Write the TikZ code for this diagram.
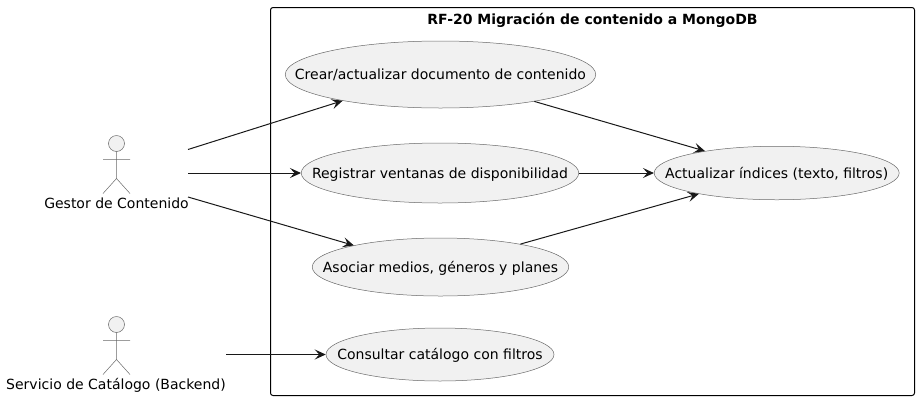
\documentclass[tikz,border=0pt]{standalone}
\usepackage{fontspec}
\setmainfont{DejaVu Sans}
\usetikzlibrary{shapes.geometric,arrows.meta}
\definecolor{ink}{HTML}{181818}
\definecolor{fillg}{HTML}{F1F1F1}
\tikzset{
  every node/.style={font=\fontsize{14}{16}\selectfont,text=black,inner sep=0pt},
  usecase/.style={ellipse,draw=ink!65,fill=fillg,line width=0.5pt,inner sep=0pt},
  uctext/.style={text height=13.5pt,text depth=3pt,fill=none,draw=none},
  conn/.style={draw=ink,line width=1pt,-{Stealth[length=11pt,width=10pt,inset=4.5pt,fill=ink]}},
  actorline/.style={draw=ink!65,line width=0.5pt,fill=none},
  actorhead/.style={draw=ink!65,fill=fillg,line width=0.5pt},
  sysbox/.style={draw=black,line width=1pt,rounded corners=2.5pt}
}
\begin{document}
\begin{tikzpicture}[x=1pt,y=-1pt]
\useasboundingbox (0,0) rectangle (919,400);
\draw[sysbox] (270.5,7.5) rectangle (914.5,395.5);
\node[anchor=base,font=\fontsize{14}{16}\selectfont\bfseries] (title) at (592.5,24) {RF-20 Migración de contenido a MongoDB};

\node[usecase,minimum width=310.5pt,minimum height=67pt,label={[uctext]center:Crear/actualizar documento de contenido}] (crear) at (440.5,74.5) {};
\node[usecase,minimum width=277.5pt,minimum height=60pt,label={[uctext]center:Registrar ventanas de disponibilidad}] (registrar) at (440,173) {};
\node[usecase,minimum width=256.5pt,minimum height=58pt,label={[uctext]center:Asociar medios, géneros y planes}] (asociar) at (440.5,267) {};
\node[usecase,minimum width=228pt,minimum height=53pt,label={[uctext]center:Consultar catálogo con filtros}] (consultar) at (440,354.5) {};
\node[usecase,minimum width=245pt,minimum height=53.5pt,label={[uctext]center:Actualizar índices (texto, filtros)}] (indices) at (776.7,173) {};

% Gestor de Contenido
\draw[actorhead] (116.5,143.5) circle (8);
\draw[actorline] (116.5,151.5) -- (116.5,178.5) (103,159.5) -- (130,159.5) (103,193.5) -- (116.5,178.5) -- (130,193.5);
\node[anchor=base] (gestor) at (116.5,208) {Gestor de Contenido};
% Servicio de Catalogo
\draw[actorhead] (116.5,324.5) circle (8);
\draw[actorline] (116.5,332.5) -- (116.5,359.5) (103,340.5) -- (130,340.5) (103,374.5) -- (116.5,359.5) -- (130,374.5);
\node[anchor=base] (servicio) at (116,389) {Servicio de Catálogo (Backend)};

\coordinate (g1) at (188,149.5);
\coordinate (g2) at (188,173);
\coordinate (g3) at (188,197);
\coordinate (s1) at (226,354.5);

\draw[conn] (g1) -- (crear.195.7);
\draw[conn] (g2) -- (registrar.west);
\draw[conn] (g3) -- (asociar.166);
\draw[conn] (s1) -- (consultar.west);
\draw[conn] (crear.344.6) -- (indices.163.4);
\draw[conn] (registrar.east) -- (indices.west);
\draw[conn] (asociar.16.8) -- (indices.195.5);
\end{tikzpicture}
\end{document}
